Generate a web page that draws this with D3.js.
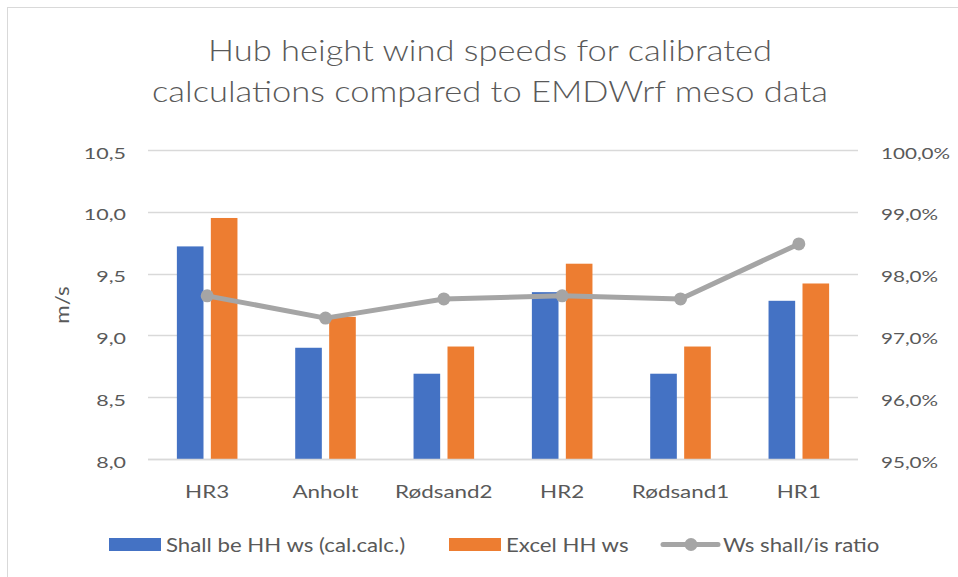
<!DOCTYPE html>
<html>
<head>
<meta charset="utf-8">
<script src="https://cdn.jsdelivr.net/npm/d3@7"></script>
<style>
  html, body { margin: 0; padding: 0; background: #fff; }
  svg text { font-family: Lato, "Open Sans", sans-serif; fill: #595959; }
</style>
</head>
<body>
<svg id="chart" width="958" height="577"></svg>
<script>
// Sites and series
const sites = ["HR3", "Anholt", "Rødsand2", "HR2", "Rødsand1", "HR1"];
const shallBe = [9.72, 8.90, 8.69, 9.35, 8.69, 9.28];   // Shall be HH ws (cal.calc.)
const excelWs = [9.95, 9.15, 8.91, 9.58, 8.91, 9.42];   // Excel HH ws
const ratio   = [0.9764, 0.9728, 0.9759, 0.9764, 0.9759, 0.9848]; // Ws shall/is ratio

const leftTicks  = [8.0, 8.5, 9.0, 9.5, 10.0, 10.5];
const rightTicks = [0.95, 0.96, 0.97, 0.98, 0.99, 1.00];

const titleLines = ["Hub height wind speeds for calibrated", "calculations compared to EMDWrf meso data"];
const yTitle = "m/s";
const seriesNames = ["Shall be HH ws (cal.calc.)", "Excel HH ws", "Ws shall/is ratio"];
const colors = ["#4472C4", "#ED7D31", "#A5A5A5"];

const svg = d3.select("#chart");
const plot = { left: 148, right: 858, top: 150, bottom: 459 };

// wide-set text: place at (x,y) and widen horizontally by sx
function label(parent, x, y, str, size, sx, anchor) {
  return parent.append("text")
    .attr("transform", `translate(${x},${y}) scale(${sx},1)`)
    .attr("text-anchor", anchor || "start")
    .attr("font-size", size)
    .text(str);
}

// outer frame
svg.append("rect")
  .attr("x", 7.5).attr("y", 7.5).attr("width", 960).attr("height", 580)
  .attr("fill", "#fff").attr("stroke", "#d9d9d9").attr("stroke-width", 1);

// title
titleLines.forEach((t, i) =>
  label(svg, 490, 61 + i * 41, t, 29, 1.19, "middle").attr("font-weight", 300));

const x = d3.scaleBand().domain(sites).range([plot.left, plot.right]).padding(0);
const yL = d3.scaleLinear().domain([8.0, 10.5]).range([plot.bottom, plot.top]);
const yR = d3.scaleLinear().domain([0.95, 1.00]).range([plot.bottom, plot.top]);
const fmtL = v => d3.format(".1f")(v).replace(".", ",");
const fmtR = v => d3.format(".1%")(v).replace(".", ",");

// gridlines
svg.append("g").selectAll("line").data(leftTicks).join("line")
  .attr("x1", plot.left).attr("x2", plot.right)
  .attr("y1", d => Math.round(yL(d)) + 0.5).attr("y2", d => Math.round(yL(d)) + 0.5)
  .attr("stroke", "#d9d9d9").attr("stroke-width", 1.3);

// left axis
const axL = svg.append("g").attr("transform", `translate(${plot.left},0)`)
  .call(d3.axisLeft(yL).tickValues(leftTicks).tickFormat(fmtL).tickSize(0));
axL.select(".domain").remove();
axL.selectAll(".tick text")
  .attr("x", 0).attr("dy", null).attr("y", 0)
  .attr("transform", "translate(-22,8) scale(1.34,1)")
  .attr("font-size", 16);

// right axis
const axR = svg.append("g").attr("transform", `translate(${plot.right},0)`)
  .call(d3.axisRight(yR).tickValues(rightTicks).tickFormat(fmtR).tickSize(0));
axR.select(".domain").remove();
axR.selectAll(".tick text")
  .attr("x", 0).attr("dy", null).attr("y", 0)
  .attr("transform", "translate(23,8) scale(1.29,1)")
  .attr("font-size", 16);
svg.selectAll(".tick text").attr("fill", "#595959").attr("font-family", null);
svg.selectAll(".tick").select("line").remove();

// y axis title
svg.append("text")
  .attr("transform", "translate(69,305) rotate(-90) scale(1.12,1)")
  .attr("text-anchor", "middle").attr("font-size", 20).text(yTitle);

// bars
const step = x.bandwidth();
const barW = step * 0.225;
const gap = step * 0.062;
const offsets = [-(gap / 2 + barW), gap / 2];
[shallBe, excelWs].forEach((vals, si) => {
  svg.append("g").selectAll("rect").data(vals).join("rect")
    .attr("x", (d, i) => x(sites[i]) + step / 2 + offsets[si])
    .attr("y", d => yL(d))
    .attr("width", barW)
    .attr("height", d => yL(8.0) - yL(d))
    .attr("fill", colors[si]);
});

// baseline
svg.append("line")
  .attr("x1", plot.left).attr("x2", plot.right)
  .attr("y1", plot.bottom + 0.5).attr("y2", plot.bottom + 0.5)
  .attr("stroke", "#d9d9d9").attr("stroke-width", 1.5);

// ratio line
const line = d3.line().x((d, i) => x(sites[i]) + step / 2).y(d => yR(d));
svg.append("path").datum(ratio)
  .attr("d", line).attr("fill", "none")
  .attr("stroke", colors[2]).attr("stroke-width", 5).attr("stroke-linejoin", "round");
svg.append("g").selectAll("circle").data(ratio).join("circle")
  .attr("cx", (d, i) => x(sites[i]) + step / 2)
  .attr("cy", d => yR(d)).attr("r", 6.5).attr("fill", colors[2]);

// category labels
const cat = svg.append("g");
sites.forEach(s => label(cat, x(s) + step / 2, 498, s, 17.5, 1.28, "middle"));

// legend
const lg = svg.append("g");
const legendItems = [
  { type: "rect", x0: 109, tx: 166 },
  { type: "rect", x0: 449, tx: 506 },
  { type: "line", x0: 663, tx: 723 }
];
legendItems.forEach((it, i) => {
  if (it.type === "rect") {
    lg.append("rect").attr("x", it.x0).attr("y", 538).attr("width", 52).attr("height", 13)
      .attr("fill", colors[i]);
  } else {
    lg.append("line").attr("x1", it.x0).attr("x2", it.x0 + 55).attr("y1", 544.5).attr("y2", 544.5)
      .attr("stroke", colors[i]).attr("stroke-width", 5).attr("stroke-linecap", "round");
    lg.append("circle").attr("cx", it.x0 + 28).attr("cy", 544.5).attr("r", 6.5).attr("fill", colors[i]);
  }
  label(lg, it.tx, 552, seriesNames[i], 19, 1.17, "start");
});
</script>
</body>
</html>
